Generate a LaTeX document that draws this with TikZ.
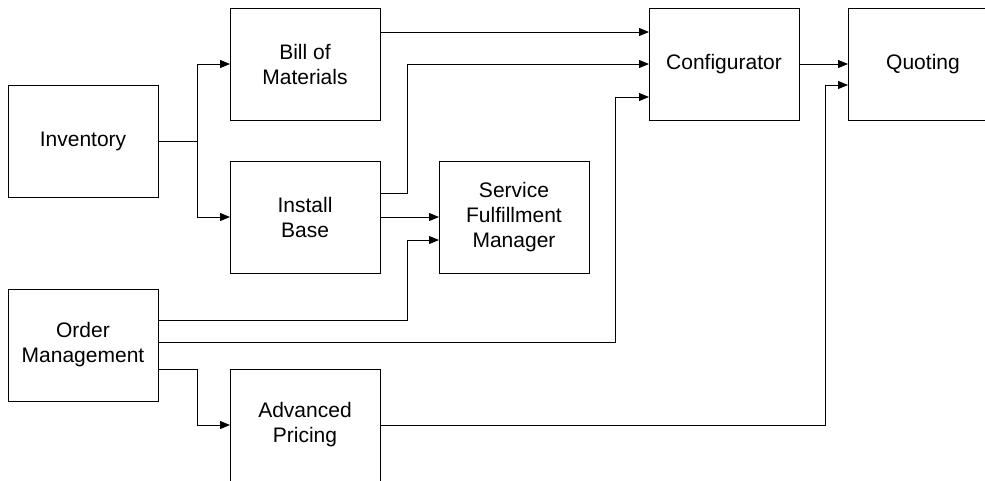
\documentclass[tikz,border=0pt]{standalone}
\usepackage{fontspec}
\setmainfont{Liberation Sans}
\usetikzlibrary{arrows.meta,positioning}

\begin{document}
\begin{tikzpicture}[
        x=1pt, y=-1pt,
        node distance=72pt,
        block/.style={rectangle, draw=black, line width=1pt, outer sep=0pt, minimum width=150pt, minimum height=112pt, align=center, font=\fontsize{21}{25}\selectfont},
        flow/.style={-{Triangle[length=10pt,width=8pt]}, line width=1pt}
    ]
    \clip (0,0) rectangle (985,480);

    % Sources
    \node[block] (inv) at (83,141) {Inventory};
    \node[block, below=92pt of inv] (om) {Order\\Management};

    % Middle column
    \node[block, right=72pt of inv, yshift=77pt] (bom) {Bill of\\Materials};
    \node[block, below=41pt of bom] (ib) {Install\\Base};
    \node[block, right=59pt of ib] (sfm) {Service\\Fulfillment\\Manager};
    \node[block, right=72pt of om, yshift=-80pt] (ap) {Advanced\\Pricing};

    % Targets
    \node[block, right=269pt of bom] (conf) {Configurator};
    \node[block, right=49pt of conf] (quot) {Quoting};

    % Flows
    \draw[flow] (inv.east) -- ++(39,0) |- (bom.west);
    \draw[flow] (inv.east) -- ++(39,0) |- (ib.west);
    \draw[flow] ([yshift=-24pt]bom.north east) -- ([yshift=-24pt]conf.north west);
    \draw[flow] ([yshift=-32pt]ib.north east) -- ++(27,0) |- (conf.west);
    \draw[flow] (ib) -- (sfm);
    \draw[flow] ([yshift=-31pt]om.north east) -- ++(249,0) |- ([yshift=-23pt]sfm.west);
    \draw[flow] ([yshift=3pt]om.east) -- ++(457,0) |- ([yshift=-33pt]conf.west);
    \draw[flow] ([yshift=32pt]om.south east) -- ++(39,0) |- (ap.west);
    \draw[flow] (conf) -- (quot);
    \draw[flow] (ap.east) -- ++(445,0) |- ([yshift=-21pt]quot.west);

\end{tikzpicture}
\end{document}
